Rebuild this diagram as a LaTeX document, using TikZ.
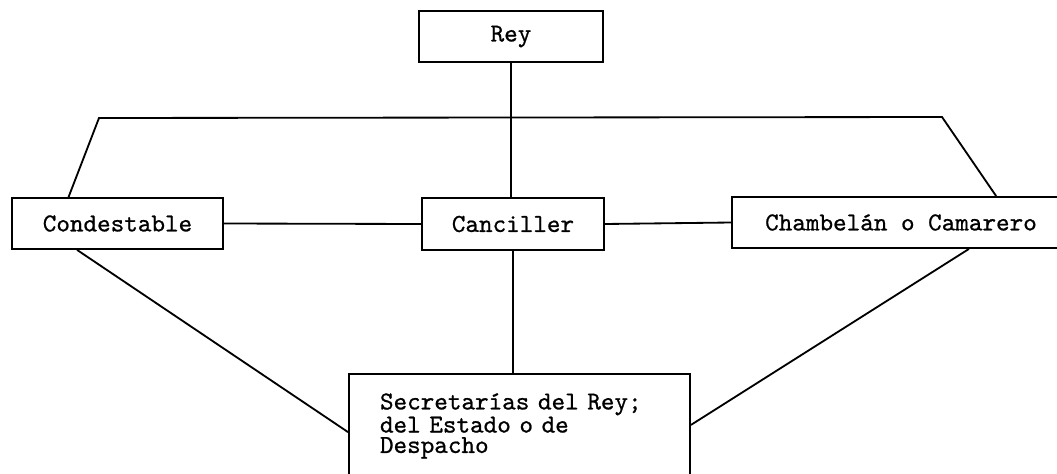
\documentclass[tikz,border=0pt]{standalone}
\usepackage{fontspec}
\setmonofont{lmmono10-regular.otf}[FakeBold=0.8]
\usepackage{tikz}
\usetikzlibrary{positioning,calc}

\begin{document}
\begin{tikzpicture}[
    orgbox/.style={draw,line width=1.3pt,minimum height=1.275cm,inner sep=0pt,font=\ttfamily\fontsize{18.4}{14.5}\selectfont},
    link/.style={line width=1.3pt}]
    \useasboundingbox (0,0) rectangle (26.425,11.825);

    % King at the top
    \node[orgbox,minimum width=4.6cm] (rey) at (12.775,10.9125) {Rey};

    % Middle row of officers
    \node[orgbox,minimum width=5.275cm] (cond) at (2.9375,6.2375) {Condestable};
    \node[orgbox,minimum width=4.55cm,minimum height=1.3cm] (canc) at (12.825,6.225) {Canciller};
    \node[orgbox,minimum width=8.45cm] (cham) at (22.525,6.2625) {Chambelán o Camarero};

    % Secretaries
    \node[orgbox,minimum width=8.525cm,minimum height=2.6cm,text width=6.975cm,inner xsep=0.775cm,align=left] (sec) at (12.9875,1.175)
        {Secretarías del Rey;\\del Estado o de\\Despacho};

    % Bar joining the outer officers
    \coordinate (barL) at (2.475,8.875);
    \coordinate (barR) at (23.55,8.9);

    % Links
    \draw[link] (rey.south) -- (rey.south |- canc.north);
    \draw[link] ($(cond.north west)!0.27!(cond.north east)$) -- (barL) -- (barR) -- ($(cham.north west)!0.78!(cham.north east)$);
    \draw[link] (cond.east) -- (canc.west);
    \draw[link] (canc.east) -- (cham.west);
    \draw[link] (canc.south) -- (canc.south |- sec.north);
    \draw[link] ($(cond.south west)!0.31!(cond.south east)$) -- ($(sec.north west)!0.558!(sec.south west)$);
    \draw[link] ($(cham.south west)!0.70!(cham.south east)$) -- ($(sec.north east)!0.49!(sec.south east)$);
\end{tikzpicture}
\end{document}
